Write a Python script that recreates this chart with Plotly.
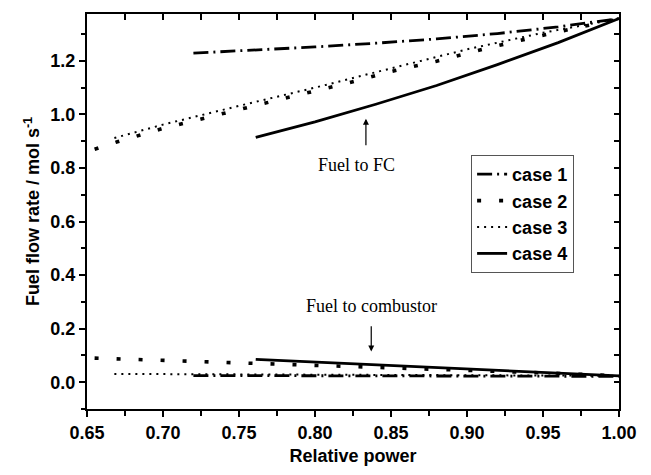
import plotly.graph_objects as go

# ---- data ----
legend_names = ["case 1", "case 2", "case 3", "case 4"]

# Fuel to FC
fc1_x = [0.72, 0.76, 0.80, 0.84, 0.88, 0.92, 0.96, 1.00]
fc1_y = [1.229, 1.240, 1.252, 1.266, 1.282, 1.302, 1.327, 1.358]

fc2_x = [0.655, 0.670, 0.700, 0.730, 0.760, 0.790, 0.820, 0.850, 0.880, 0.910, 0.940, 0.970, 1.000]
fc2_y = [0.870, 0.898, 0.948, 0.991, 1.034, 1.074, 1.115, 1.160, 1.199, 1.243, 1.283, 1.322, 1.358]

fc3_x = [0.668, 0.700, 0.750, 0.800, 0.850, 0.900, 0.950, 1.000]
fc3_y = [0.912, 0.962, 1.032, 1.100, 1.172, 1.243, 1.305, 1.358]

fc4_x = [0.761, 0.800, 0.840, 0.880, 0.920, 0.960, 1.000]
fc4_y = [0.914, 0.972, 1.038, 1.108, 1.186, 1.268, 1.358]

# Fuel to combustor
cb1_x = [0.72, 0.80, 0.90, 1.00]
cb1_y = [0.025, 0.024, 0.023, 0.022]

cb2_x = [0.655, 0.700, 0.750, 0.800, 0.850, 0.900, 0.950, 1.000]
cb2_y = [0.090, 0.082, 0.073, 0.064, 0.054, 0.045, 0.035, 0.024]

cb3_x = [0.668, 0.750, 0.850, 1.000]
cb3_y = [0.031, 0.029, 0.027, 0.024]

cb4_x = [0.761, 0.800, 0.850, 0.900, 0.950, 1.000]
cb4_y = [0.085, 0.075, 0.063, 0.050, 0.037, 0.024]

x_ticks = [0.65, 0.70, 0.75, 0.80, 0.85, 0.90, 0.95, 1.00]
y_ticks = [0.0, 0.2, 0.4, 0.6, 0.8, 1.0, 1.2]

# ---- styles ----
styles = [
    dict(color="black", width=2.8, dash="15px,5px,2px,5px"),
    dict(color="black", width=3.6, dash="4px,18px"),
    dict(color="black", width=2.0, dash="2px,5px"),
    dict(color="black", width=2.8),
]

fig = go.Figure()
fc = [(fc1_x, fc1_y), (fc2_x, fc2_y), (fc3_x, fc3_y), (fc4_x, fc4_y)]
cb = [(cb1_x, cb1_y), (cb2_x, cb2_y), (cb3_x, cb3_y), (cb4_x, cb4_y)]
for i, name in enumerate(legend_names):
    fig.add_trace(go.Scatter(x=fc[i][0], y=fc[i][1], mode="lines", name=name,
                             line=styles[i], legendgroup=name))
for i, name in enumerate(legend_names):
    fig.add_trace(go.Scatter(x=cb[i][0], y=cb[i][1], mode="lines", name=name,
                             line=styles[i], legendgroup=name, showlegend=False))

# invisible trace for the top/right inner tick axes
fig.add_trace(go.Scatter(x=[None], y=[None], xaxis="x2", yaxis="y2",
                         showlegend=False, hoverinfo="skip"))

xr = [0.65, 1.00]
yr = [-0.1, 1.375]
sans = "Liberation Sans, Arial"
tickfont = dict(family=sans, size=18, color="black", weight="bold")
titlefont = dict(family=sans, size=18, color="black", weight="bold")

fig.update_layout(
    width=651, height=475,
    margin=dict(l=87, r=32, t=14, b=66),
    paper_bgcolor="white", plot_bgcolor="white",
    showlegend=True,
    legend=dict(x=0.722, y=0.643, xanchor="left", yanchor="top",
                bordercolor="#555555", borderwidth=1, bgcolor="white",
                font=dict(family=sans, size=18, color="black", weight="bold"),
                tracegroupgap=0),
    xaxis=dict(range=xr, tickvals=x_ticks, ticktext=[f"{v:.2f}" for v in x_ticks],
               ticks="outside", ticklen=6, tickwidth=1.5, tickcolor="black",
               minor=dict(ticks="outside", ticklen=5, dtick=0.025, tickwidth=1.5, tickcolor="black"),
               showline=True, linewidth=2, linecolor="black", mirror=True,
               showgrid=False, zeroline=False, tickfont=tickfont,
               title=dict(text="Relative power", standoff=8, font=titlefont)),
    yaxis=dict(range=yr, tickvals=y_ticks, ticktext=[f"{v:.1f}" for v in y_ticks],
               ticks="outside", ticklen=6, tickwidth=1.5, tickcolor="black",
               minor=dict(ticks="outside", ticklen=4, dtick=0.1, tickwidth=1.5, tickcolor="black"),
               showline=True, linewidth=2, linecolor="black", mirror=True,
               showgrid=False, zeroline=False, tickfont=tickfont,
               title=dict(text="Fuel flow rate / mol s<sup>-1</sup>", standoff=6, font=titlefont)),
    xaxis2=dict(range=xr, overlaying="x", side="top", anchor="y", showticklabels=False,
                ticks="inside", ticklen=6, tickwidth=1.5, tickcolor="black", dtick=0.025, tick0=0.65,
                showgrid=False, zeroline=False, showline=False),
    yaxis2=dict(range=yr, overlaying="y", side="right", anchor="x", showticklabels=False,
                ticks="inside", ticklen=5, tickwidth=1.5, tickcolor="black", dtick=0.1, tick0=0,
                showgrid=False, zeroline=False, showline=False),
)

serif = dict(family="Liberation Serif, Times New Roman", size=18, color="black")
fig.add_annotation(x=0.8335, y=0.984, ax=0.8335, ay=0.879, xref="x", yref="y", axref="x", ayref="y",
                   text="", showarrow=True, arrowhead=2, arrowsize=1, arrowwidth=1.2, arrowcolor="black")
fig.add_annotation(x=0.8276, y=0.812, xref="x", yref="y", text="Fuel to FC", showarrow=False, font=serif)
fig.add_annotation(x=0.837, y=0.115, ax=0.837, ay=0.215, xref="x", yref="y", axref="x", ayref="y",
                   text="", showarrow=True, arrowhead=2, arrowsize=1, arrowwidth=1.2, arrowcolor="black")
fig.add_annotation(x=0.837, y=0.283, xref="x", yref="y", text="Fuel to combustor", showarrow=False, font=serif)

fig.write_html("out.html")
